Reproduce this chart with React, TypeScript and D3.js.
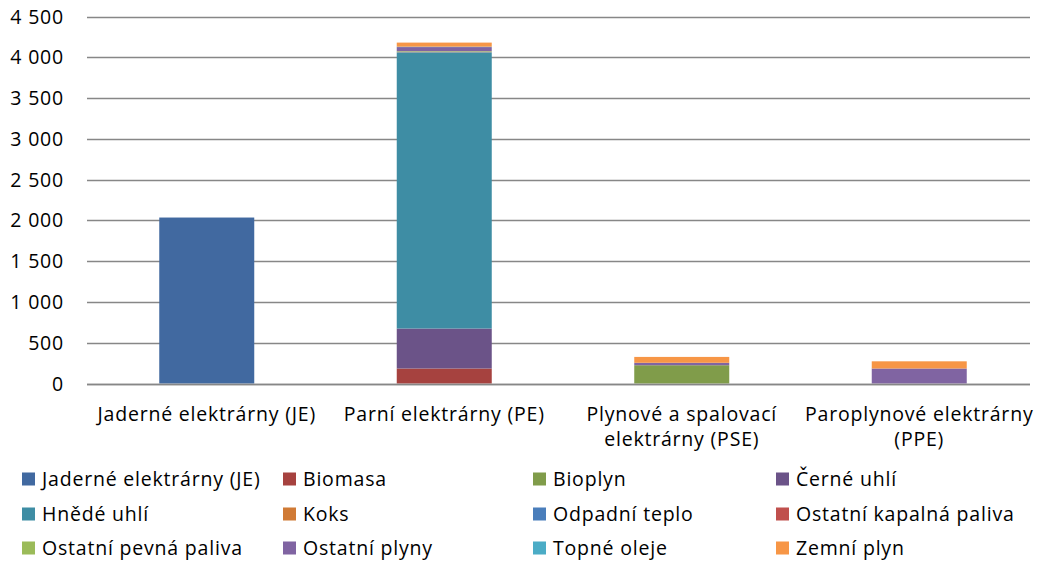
import React from 'react';
import * as d3 from 'd3';

const categories = [
  ['Jaderné elektrárny (JE)'],
  ['Parní elektrárny (PE)'],
  ['Plynové a spalovací', 'elektrárny (PSE)'],
  ['Paroplynové elektrárny', '(PPE)'],
];

const fuels = [
  'Jaderné elektrárny (JE)', 'Biomasa', 'Bioplyn', 'Černé uhlí',
  'Hnědé uhlí', 'Koks', 'Odpadní teplo', 'Ostatní kapalná paliva',
  'Ostatní pevná paliva', 'Ostatní plyny', 'Topné oleje', 'Zemní plyn',
];

const colors = [
  '#4169A0', '#A6423F', '#809C4A', '#6B5388',
  '#3E8DA4', '#D07A35', '#4A7EBB', '#C0504D',
  '#9BBB59', '#8064A2', '#4BACC6', '#F79646',
];

// values per fuel, one per category (JE, PE, PSE, PPE)
const values = [
  [2035, 0, 0, 0],
  [0, 184, 0, 0],
  [0, 0, 224, 0],
  [0, 490, 0, 0],
  [0, 3385, 0, 0],
  [0, 3, 0, 0],
  [0, 3, 0, 0],
  [0, 2, 0, 0],
  [0, 8, 0, 0],
  [0, 50, 30, 184],
  [0, 5, 0, 0],
  [0, 50, 72, 88],
];

const yTicks = [0, 500, 1000, 1500, 2000, 2500, 3000, 3500, 4000, 4500];

const W = 1037;
const H = 563;
const left = 87;
const right = 1030;
const top = 16.5;
const bottom = 383.5;
const font = '"Open Sans", sans-serif';
const fs = 19.5;
const ls = 0.8;

const fmt = d3.formatLocale({ decimal: ',', thousands: ' ', grouping: [3], currency: ['', ''] }).format(',d');

export default function App() {
  const x = d3.scaleBand<number>().domain(categories.map((_, i) => i)).range([88, 1038]).paddingInner(0.6).paddingOuter(0.3);
  const y = d3.scaleLinear().domain([0, 4500]).range([bottom, top]);

  const rows = categories.map((_, ci) => {
    const r: any = { ci };
    fuels.forEach((f, fi) => { r[fi] = values[fi][ci]; });
    return r;
  });
  const stack = d3.stack<any>().keys(fuels.map((_, i) => String(i)))(rows);

  const legendX = [22, 283, 533, 776];
  const legendY = [479, 514, 548];

  return (
    <svg width={W} height={H} style={{ position: 'absolute', left: 0, top: 0, background: '#fff', letterSpacing: ls }} fontFamily={font}>
      {yTicks.map(t => (
        <g key={t}>
          <line x1={left} x2={right} y1={Math.round(y(t)) + 0.5} y2={Math.round(y(t)) + 0.5} stroke="#878787" strokeWidth={1.3} />
          <text x={64} y={y(t)} dy="0.36em" textAnchor="end" fontSize={fs} fill="#000">{fmt(t)}</text>
        </g>
      ))}
      {stack.map((layer, fi) => (
        <g key={fi} fill={colors[fi]}>
          {layer.map((d, ci) => d[1] - d[0] > 0 ? (
            <rect key={ci} x={x(ci)} width={x.bandwidth()} y={y(d[1])} height={y(d[0]) - y(d[1])} />
          ) : null)}
        </g>
      ))}
      <line x1={left} x2={right} y1={Math.round(y(0)) + 0.5} y2={Math.round(y(0)) + 0.5} stroke="#878787" strokeWidth={1.3} />
      {categories.map((lines, ci) => (
        <text key={ci} x={(x(ci) as number) + x.bandwidth() / 2} y={421} textAnchor="middle" fontSize={fs} fill="#000">
          {lines.map((l, li) => (
            <tspan key={li} x={(x(ci) as number) + x.bandwidth() / 2} dy={li === 0 ? 0 : 25}>{l}</tspan>
          ))}
        </text>
      ))}
      {fuels.map((f, i) => {
        const lx = legendX[i % 4];
        const ly = legendY[Math.floor(i / 4)];
        return (
          <g key={f}>
            <rect x={lx} y={ly - 6.5} width={13} height={13} fill={colors[i]} />
            <text x={lx + 20} y={ly} dy="0.36em" fontSize={fs} fill="#000">{f}</text>
          </g>
        );
      })}
    </svg>
  );
}
